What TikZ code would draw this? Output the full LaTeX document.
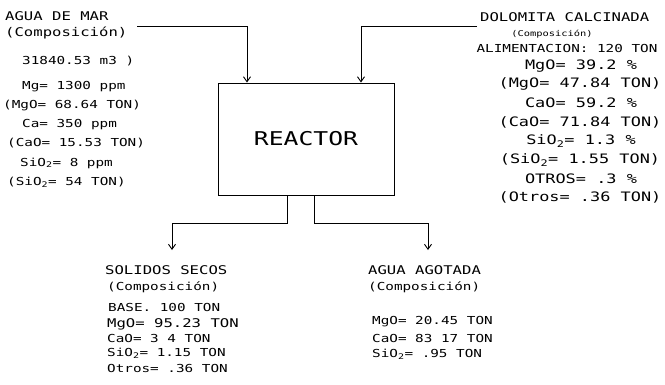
\documentclass[tikz,border=0pt]{standalone}
\usepackage{fontspec}
\usepackage{tikz}
\usetikzlibrary{arrows.meta}

\newfontfamily\plotfont[FakeStretch=1.3]{DejaVu Sans Mono}

\tikzset{
  txt/.style={font={\plotfont\fontsize{11}{13}\selectfont}, inner sep=0pt, anchor=west},
  ttl/.style={txt, font={\plotfont\fontsize{12}{14}\selectfont}},
  big/.style={txt, anchor=center, font={\plotfont\fontsize{13}{15}\selectfont}},
  sml/.style={txt, anchor=center, font={\plotfont\fontsize{8}{10}\selectfont}},
  flow/.style={line width=0.9pt, -{Straight Barb[length=5pt, width=7pt]}}
}

\begin{document}
\begin{tikzpicture}[x=1pt, y=-1pt]
    \useasboundingbox (0,0) rectangle (665,384);

    % Reactor
    \node[draw, line width=1pt, minimum width=176pt, minimum height=112pt, inner sep=0pt,
          font={\plotfont\fontsize{19}{21}\selectfont}] (reactor) at (306,139) {REACTOR};

    % Agua de mar (entrada)
    \node[ttl] (a1) at (5,16) {AGUA DE MAR};
    \node[ttl] (a2) at (5,33) {(Composición)};
    \node[txt] (a3) at (22,61) {31840.53 m3 )};
    \node[txt] (a4) at (22,87) {Mg= 1300 ppm};
    \node[txt] (a5) at (3,106) {(MgO= 68.64 TON)};
    \node[txt] (a6) at (22,125) {Ca= 350 ppm};
    \node[txt] (a7) at (7,143) {(CaO= 15.53 TON)};
    \node[txt] (a8) at (20,163) {SiO\textsubscript{2}= 8 ppm};
    \node[txt] (a9) at (7,182) {(SiO\textsubscript{2}=  54 TON)};

    % Dolomita calcinada (entrada)
    \node[ttl] (d1) at (480,17) {DOLOMITA CALCINADA};
    \node[sml] (d2) at (552,34) {(Composición)};
    \node[txt, anchor=center] (d3) at (567,48) {ALIMENTACION: 120 TON};
    \node[big] (d4) at (581,66) {MgO= 39.2 \%};
    \node[big] (d5) at (580,84) {(MgO= 47.84 TON)};
    \node[big] (d6) at (581,103) {CaO= 59.2 \%};
    \node[big] (d7) at (580,122) {(CaO= 71.84 TON)};
    \node[big] (d8) at (581,141) {SiO\textsubscript{2}= 1.3 \%};
    \node[big] (d9) at (580,160) {(SiO\textsubscript{2}= 1.55 TON)};
    \node[big] (d10) at (581,179) {OTROS= .3 \%};
    \node[big] (d11) at (580,197) {(Otros= .36 TON)};

    % Solidos secos (salida)
    \node[ttl] (s1) at (105,270) {SOLIDOS SECOS};
    \node[txt] (s2) at (107,287) {(Composición)};
    \node[txt] (s3) at (108,307) {BASE. 100 TON};
    \node[ttl] (s4) at (107,324) {MgO= 95.23 TON};
    \node[txt] (s5) at (107,338) {CaO= 3 4 TON};
    \node[txt] (s6) at (107,353) {SiO\textsubscript{2}= 1.15 TON};
    \node[txt] (s7) at (107,368) {Otros= .36 TON};

    % Agua agotada (salida)
    \node[ttl] (g1) at (368,270) {AGUA AGOTADA};
    \node[txt] (g2) at (368,287) {(Composición)};
    \node[txt] (g3) at (372,322) {MgO= 20.45 TON};
    \node[txt] (g4) at (372,338) {CaO= 83 17 TON};
    \node[txt] (g5) at (372,354) {SiO\textsubscript{2}= .95 TON};

    % Connectors
    \coordinate (aguaEnd) at (137,26);
    \coordinate (dolEnd) at (477,26);
    \coordinate (solTop) at (172,250);
    \coordinate (agoTop) at (428,250);
    \draw[flow] (aguaEnd) -| ([xshift=-59pt]reactor.north);
    \draw[flow] (dolEnd) -| ([xshift=55pt]reactor.north);
    \draw[flow] ([xshift=-19pt]reactor.south) -- ++(0,28) -| (solTop);
    \draw[flow] ([xshift=8pt]reactor.south) -- ++(0,28) -| (agoTop);
\end{tikzpicture}
\end{document}
